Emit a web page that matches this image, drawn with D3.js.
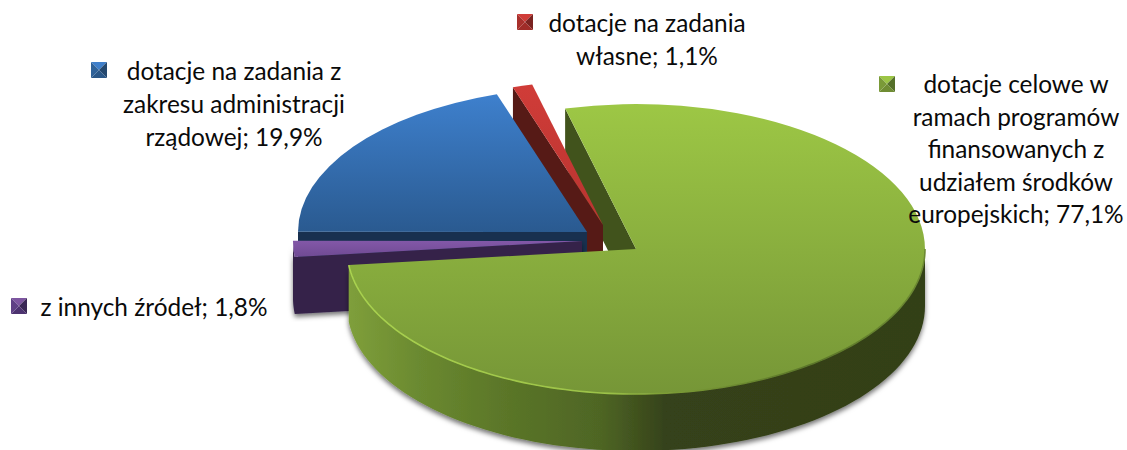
<!DOCTYPE html>
<html><head><meta charset="utf-8">
<script src="https://cdn.jsdelivr.net/npm/d3@7/dist/d3.min.js"></script>
<style>html,body{margin:0;padding:0;background:#fff}svg{display:block}text{font-family:Lato,"Open Sans",sans-serif;fill:#0a0a0a}</style>
</head><body><svg id="c" width="1127" height="450"></svg>
<script>
const categories = ["dotacje celowe w ramach programów finansowanych z udziałem środków europejskich","z innych źródeł","dotacje na zadania z zakresu administracji rządowej","dotacje na zadania własne"];
const shares = [77.1,1.8,19.9,1.1];
const labelLines = [
 ["dotacje celowe w","ramach programów","finansowanych z","udziałem środków","europejskich; 77,1%"],
 ["z innych źródeł; 1,8%"],
 ["dotacje na zadania z","zakresu administracji","rządowej; 19,9%"],
 ["dotacje na zadania","własne; 1,1%"]];
const labelPos = [[1016,93,32.6],[154,316,33],[234,80,33],[647,32,33]];
const keyPos = [[879,76],[11,298],[91,62],[517,14]];
const centers = [[636,249],[582,241],[587,232],[603,225]];
const rx=289, ry=145, depth=57;
const startDeg=-14.2;
const face=[["#9dc745","#769637"],["#8358a8","#6f4a93"],["#3e80cd","#2a5a90"],["#d03c38","#b93430"]];
const cut=["#41531c","#35244a","#18304f","#561a16"];
const keyCols=[["#9cc545","#55702a","#6f8c33","#7a9a38"],["#7d55a0","#3a2755","#4d3370","#5f4085"],["#3f7fca","#24486f","#2a5788","#2f6299"],["#d03c38","#7a2320","#a02c28","#a8302c"]];

const svg=d3.select("#c"), defs=svg.append("defs");
const rad=d=>d*Math.PI/180;
const arcs=d3.pie().sort(null).value(d=>d).startAngle(rad(startDeg)).endAngle(rad(startDeg+360))(shares);
const pt=(i,a,dz=0,k=1)=>[centers[i][0]+k*rx*Math.sin(a),centers[i][1]-k*ry*Math.cos(a)+dz];
const line=d3.line();
const unit=d3.arc().innerRadius(0).outerRadius(1);

const grad=(id,cols,o,user)=>{const g=defs.append("linearGradient").attr("id",id);
 if(user)g.attr("gradientUnits","userSpaceOnUse");
 g.attr("x1",o[0]).attr("y1",o[1]).attr("x2",o[2]).attr("y2",o[3]);
 cols.forEach(c=>g.append("stop").attr("offset",c[0]).attr("stop-color",c[1]));};
face.forEach((c,i)=>grad("f"+i,[[0,c[0]],[1,c[1]]],[0,0,0,1],false));
grad("wall",[[0,"#7f9f3b"],[.12,"#6b8a30"],[.28,"#5a7528"],[.44,"#4e6524"],[.55,"#35421a"],[1,"#333f18"]],[348,0,925,0],true);
grad("rim",[[0,"#a9d24f"],[.45,"#9cc248"],[.55,"#7c9c36"],[.8,"#5a7529"],[1,"#6d8a32"]],[348,0,925,0],true);
const sh=defs.append("filter").attr("id","sh").attr("x","-5%").attr("y","-5%").attr("width","110%").attr("height","115%");
sh.append("feDropShadow").attr("dx",0).attr("dy",3).attr("stdDeviation",2.5).attr("flood-color","#000").attr("flood-opacity",.55);
const bl=defs.append("filter").attr("id","bl");bl.append("feGaussianBlur").attr("stdDeviation",.7);

const cutFace=(i,a)=>line([pt(i,a),pt(i,a,0,0),pt(i,a,depth,0),pt(i,a,depth)])+"Z";
const wallPath=(i,a0,a1)=>{const s=d3.range(0,81).map(t=>a0+(a1-a0)*t/80);
 return line(s.map(a=>pt(i,a)).concat(s.slice().reverse().map(a=>pt(i,a,depth))))+"Z";};
const topFace=i=>svg.append("path").attr("d",unit(arcs[i])).attr("transform",`translate(${centers[i]}) scale(${rx},${ry})`).attr("fill",`url(#f${i})`);

svg.append("path").attr("d",cutFace(0,arcs[0].startAngle)).attr("fill",cut[0]);
svg.append("path").attr("d",cutFace(3,arcs[3].startAngle)).attr("fill",cut[3]);
topFace(3);
svg.append("path").attr("d",cutFace(2,arcs[2].startAngle)).attr("fill",cut[2]);
topFace(2);
svg.append("path").attr("d",cutFace(1,arcs[1].startAngle)+wallPath(1,arcs[1].startAngle,arcs[1].endAngle)).attr("fill",cut[1]).attr("filter","url(#sh)");
topFace(1);
const aR=rad(90);
svg.append("path").attr("d",wallPath(0,aR,arcs[0].endAngle)).attr("fill","url(#wall)").attr("filter","url(#sh)");
topFace(0);
const rimPts=d3.range(0,121).map(t=>pt(0,aR+(arcs[0].endAngle-aR)*t/120));
svg.append("path").attr("d",line(rimPts)).attr("fill","none").attr("stroke","url(#rim)").attr("stroke-width",1.6).attr("filter","url(#bl)");

arcs.forEach((d,i)=>{const [x,y]=keyPos[i],s=16,c=[x+s/2,y+s/2],q=[[x,y],[x+s,y],[x+s,y+s],[x,y+s]];
 q.forEach((p,k)=>svg.append("polygon").attr("points",[p,q[(k+1)%4],c].join(" ")).attr("fill",keyCols[i][k]));});

labelLines.forEach((ls,i)=>{const [x,y,h]=labelPos[i];
 ls.forEach((t,k)=>svg.append("text").attr("x",x).attr("y",y+k*h).attr("text-anchor","middle").attr("font-size",24.4).text(t));});
</script></body></html>
